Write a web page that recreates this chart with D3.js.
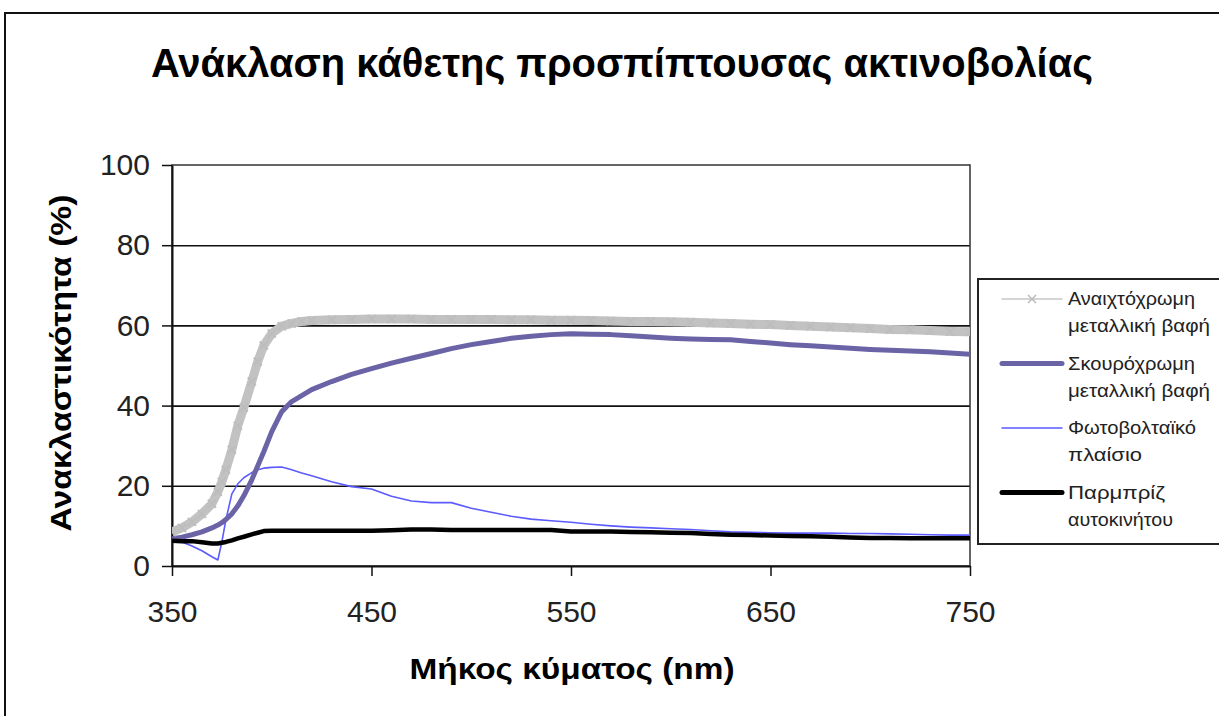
<!DOCTYPE html>
<html>
<head>
<meta charset="utf-8">
<script src="https://cdn.jsdelivr.net/npm/d3@7"></script>
<style>
  body { margin: 0; background: #fff; }
  svg { display: block; font-family: "Liberation Sans", Arial, sans-serif; }
</style>
</head>
<body>
<svg id="chart" width="1219" height="716"></svg>
<script>
// wavelength (nm) and reflectance (%)
const wavelengths = [350, 355, 360, 365, 370, 373, 375, 377, 380, 383, 386, 390, 393, 396, 400, 405, 410, 415, 420,
  430, 440, 450, 460, 470, 480, 490, 500, 510, 520, 530, 540, 550, 560, 570, 580, 590, 600,
  610, 620, 630, 640, 650, 660, 670, 680, 690, 700, 710, 720, 730, 740, 750];

const lightPaint = [8.5, 9.5, 11, 13, 15.5, 18.5, 21, 24, 29, 35, 39.5, 46, 51, 55, 58, 59.8, 60.5, 61, 61.2,
  61.4, 61.5, 61.6, 61.6, 61.6, 61.5, 61.5, 61.5, 61.5, 61.4, 61.4, 61.3, 61.3, 61.2, 61.1, 61.0, 61.0, 60.9,
  60.8, 60.6, 60.5, 60.3, 60.2, 60.0, 59.8, 59.6, 59.4, 59.2, 59.0, 58.9, 58.7, 58.5, 58.4];

const darkPaint = [6.8, 7.2, 7.8, 8.5, 9.5, 10.2, 10.8, 11.6, 13, 15, 17.5, 21.5, 25, 28.5, 33.5, 38.5, 41, 42.5, 44,
  46, 47.8, 49.2, 50.6, 51.8, 53, 54.2, 55.2, 56, 56.8, 57.3, 57.7, 57.9, 57.8, 57.7, 57.4, 57.1, 56.8,
  56.6, 56.5, 56.4, 56.0, 55.6, 55.2, 54.9, 54.6, 54.3, 54.0, 53.8, 53.6, 53.4, 53.1, 52.8];

const pvPanel = [6.5, 6.0, 5.0, 3.8, 2.3, 1.5, 6, 11.5, 18, 20.5, 22, 23.3, 24, 24.4, 24.6, 24.7, 24.0, 23.2, 22.5,
  21, 19.8, 19.2, 17.4, 16.2, 15.8, 15.8, 14.4, 13.4, 12.4, 11.7, 11.3, 10.9, 10.4, 10.0, 9.7, 9.5, 9.3,
  9.1, 8.8, 8.5, 8.4, 8.3, 8.2, 8.2, 8.2, 8.1, 8.1, 8.0, 7.9, 7.8, 7.7, 7.7];

const windshield = [6.3, 6.2, 6.2, 5.9, 5.6, 5.6, 5.8, 6.0, 6.4, 6.9, 7.3, 7.9, 8.3, 8.7, 8.8, 8.8, 8.8, 8.8, 8.8,
  8.8, 8.8, 8.8, 8.9, 9.1, 9.1, 9.0, 9.0, 9.0, 9.0, 9.0, 9.0, 8.6, 8.6, 8.6, 8.5, 8.4, 8.3,
  8.2, 8.0, 7.8, 7.7, 7.6, 7.5, 7.4, 7.3, 7.1, 7.0, 7.0, 6.9, 6.9, 6.9, 6.9];

const xTicks = [350, 450, 550, 650, 750];
const yTicks = [0, 20, 40, 60, 80, 100];

const legendLabels = [
  ["Αναιχτόχρωμη", "μεταλλική βαφή"],
  ["Σκουρόχρωμη", "μεταλλική βαφή"],
  ["Φωτοβολταϊκό", "πλαίσιο"],
  ["Παρμπρίζ", "αυτοκινήτου"]
];

const svg = d3.select("#chart");
const margin = { top: 165, left: 172 };
const plotW = 798, plotH = 401;

// outer chart frame (runs off the right/bottom edge)
svg.append("rect")
  .attr("x", 5).attr("y", 13)
  .attr("width", 1240).attr("height", 720)
  .attr("fill", "#fff").attr("stroke", "#111").attr("stroke-width", 2);

svg.append("text")
  .attr("x", 622).attr("y", 77)
  .attr("text-anchor", "middle")
  .attr("font-size", 40).attr("font-weight", "bold")
  .attr("textLength", 942).attr("lengthAdjust", "spacingAndGlyphs")
  .text("Ανάκλαση κάθετης προσπίπτουσας ακτινοβολίας");

const x = d3.scaleLinear().domain([350, 750]).range([0, plotW]);
const y = d3.scaleLinear().domain([0, 100]).range([plotH, 0]);

const g = svg.append("g").attr("transform", `translate(${margin.left},${margin.top})`);

// gridlines
g.append("g")
  .call(d3.axisLeft(y).tickValues([20, 40, 60, 80]).tickSize(-plotW).tickFormat(""))
  .call(s => s.select(".domain").remove())
  .selectAll("line").attr("stroke", "#111").attr("stroke-width", 1.6);

// plot frame
g.append("rect")
  .attr("width", plotW).attr("height", plotH)
  .attr("fill", "none").attr("stroke", "#333").attr("stroke-width", 1.5);

// axes
const yAxis = g.append("g")
  .call(d3.axisLeft(y).tickValues(yTicks).tickSize(10).tickSizeOuter(0).tickPadding(12));
yAxis.selectAll("text").attr("font-size", 30).attr("fill", "#222")
  .attr("font-family", "'Liberation Sans', Arial, sans-serif");

const xAxis = g.append("g")
  .attr("transform", `translate(0,${plotH})`)
  .call(d3.axisBottom(x).tickValues(xTicks).tickSize(10).tickSizeOuter(0).tickPadding(25));
xAxis.selectAll("text").attr("font-size", 30).attr("fill", "#222")
  .attr("font-family", "'Liberation Sans', Arial, sans-serif");

[yAxis, xAxis].forEach(a => {
  a.select(".domain").attr("stroke", "#111").attr("stroke-width", 2);
  a.selectAll(".tick line").attr("stroke", "#111").attr("stroke-width", 1.5);
});

// axis titles
svg.append("text")
  .attr("x", 572).attr("y", 679)
  .attr("text-anchor", "middle")
  .attr("font-size", 29).attr("font-weight", "bold")
  .attr("textLength", 325).attr("lengthAdjust", "spacingAndGlyphs")
  .text("Μήκος κύματος (nm)");

svg.append("text")
  .attr("transform", "translate(71,363) rotate(-90)")
  .attr("text-anchor", "middle")
  .attr("font-size", 30).attr("font-weight", "bold")
  .attr("textLength", 337).attr("lengthAdjust", "spacingAndGlyphs")
  .text("Ανακλαστικότητα (%)");

// series
const series = [
  { values: lightPaint, color: "#c2c2c2", width: 9 },
  { values: pvPanel, color: "#5b5bff", width: 1.6 },
  { values: darkPaint, color: "#6a63a6", width: 5 },
  { values: windshield, color: "#000", width: 4.5 }
];

svg.append("clipPath").attr("id", "plotClip")
  .append("rect").attr("width", plotW).attr("height", plotH + 2);

const lines = g.append("g").attr("clip-path", "url(#plotClip)");
const line = d3.line().x((d, i) => x(wavelengths[i])).y(d => y(d));

series.forEach(s => {
  lines.append("path")
    .datum(s.values)
    .attr("fill", "none")
    .attr("stroke", s.color)
    .attr("stroke-width", s.width)
    .attr("stroke-linejoin", "round")
    .attr("d", line);
});

// x markers along the light paint series
const cross = d3.symbol().type(d3.symbolX).size(44);
lines.append("g").selectAll("path")
  .data(lightPaint)
  .join("path")
  .attr("transform", (d, i) => `translate(${x(wavelengths[i])},${y(d)})`)
  .attr("d", cross)
  .attr("fill", "none")
  .attr("stroke", "#bdbdbd")
  .attr("stroke-width", 2);

// legend
const legend = svg.append("g");
legend.append("rect")
  .attr("x", 978).attr("y", 279)
  .attr("width", 260).attr("height", 265)
  .attr("fill", "#fff").attr("stroke", "#222").attr("stroke-width", 2);

const legendStyle = [
  { color: "#c8c8c8", width: 1.5 },
  { color: "#6a63a6", width: 5 },
  { color: "#5b5bff", width: 1.6 },
  { color: "#000", width: 5 }
];
const legendWidths = [[127, 142], [127, 142], [128, 74], [97, 105]];

legendLabels.forEach((lab, i) => {
  const sy = 299 + i * 64.5;
  legend.append("line")
    .attr("x1", 1002).attr("x2", 1062)
    .attr("y1", sy).attr("y2", sy)
    .attr("stroke", legendStyle[i].color)
    .attr("stroke-width", legendStyle[i].width)
    .attr("stroke-linecap", "round");
  if (i === 0) {
    legend.append("path")
      .attr("transform", `translate(1032,${sy})`)
      .attr("d", cross)
      .attr("fill", "none").attr("stroke", "#bbb").attr("stroke-width", 1.5);
  }
  lab.forEach((t, j) => {
    legend.append("text")
      .attr("x", 1068).attr("y", sy + 6 + j * 27)
      .attr("font-size", 18).attr("fill", "#222")
      .attr("textLength", legendWidths[i][j]).attr("lengthAdjust", "spacingAndGlyphs")
      .text(t);
  });
});
</script>
</body>
</html>
